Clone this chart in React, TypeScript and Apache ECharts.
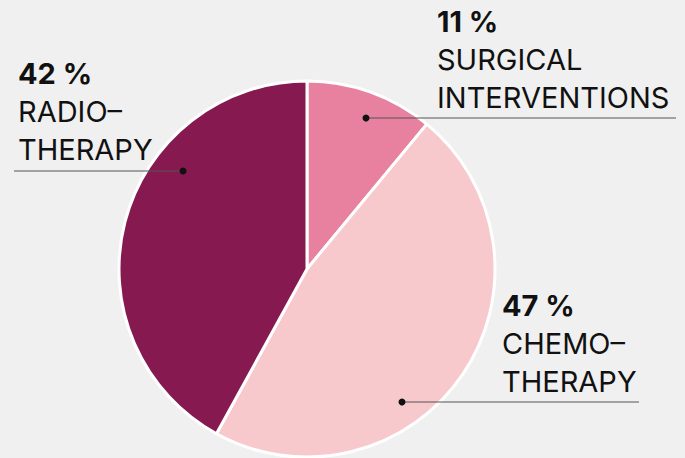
import React, { useEffect, useRef } from "react";
import * as echarts from "echarts";

const categories = ["SURGICAL\nINTERVENTIONS", "CHEMO–\nTHERAPY", "RADIO–\nTHERAPY"];
const values = [11, 47, 42];
const colors = ["#E8809F", "#F8C9CC", "#861A50"];
const percentLabels = ["11 %", "47 %", "42 %"];

// label anchor layout
const labelLayout = [
  { tx: 437, ty: 2, x1: 366, x2: 676, ly: 118, dot: 366 },
  { tx: 502, ty: 286, x1: 402, x2: 639, ly: 402, dot: 402 },
  { tx: 18, ty: 54, x1: 14, x2: 183, ly: 171, dot: 183 },
];

export default function App() {
  const ref = useRef<HTMLDivElement>(null);
  useEffect(() => {
    const chart = echarts.init(ref.current!, null, { renderer: "svg" });
    const graphic: any[] = [];
    labelLayout.forEach((l, i) => {
      graphic.push({
        type: "line",
        shape: { x1: l.x1, y1: l.ly, x2: l.x2, y2: l.ly },
        style: { stroke: "#555", lineWidth: 1.2 },
        z: 10,
      });
      graphic.push({
        type: "circle",
        shape: { cx: l.dot, cy: l.ly, r: 3.5 },
        style: { fill: "#111" },
        z: 11,
      });
      graphic.push({
        type: "text",
        x: l.tx,
        y: l.ty,
        z: 12,
        style: {
          text: "{p|" + percentLabels[i] + "}\n" +
            categories[i].split("\n").map((s) => "{n|" + s + "}").join("\n"),
          rich: {
            p: { fontFamily: "Inter", fontSize: 29, fontWeight: 700, fill: "#111", lineHeight: 38 },
            n: { fontFamily: "Inter", fontSize: 29, fontWeight: 400, fill: "#111", lineHeight: 38.5 },
          },
          fill: "#111",
        },
      });
    });
    chart.setOption({
      animation: false,
      backgroundColor: "#F0F0F0",
      series: [
        {
          type: "pie",
          center: [307, 269],
          radius: [0, 188],
          startAngle: 90,
          clockwise: true,
          label: { show: false },
          labelLine: { show: false },
          itemStyle: { borderColor: "#FFFFFF", borderWidth: 3 },
          emphasis: { disabled: true },
          data: values.map((v, i) => ({
            value: v,
            name: categories[i],
            itemStyle: { color: colors[i] },
          })),
        },
      ],
      graphic,
    });
    return () => chart.dispose();
  }, []);
  return (
    <div
      ref={ref}
      style={{ position: "fixed", left: 0, top: 0, width: 685, height: 458 }}
    />
  );
}
